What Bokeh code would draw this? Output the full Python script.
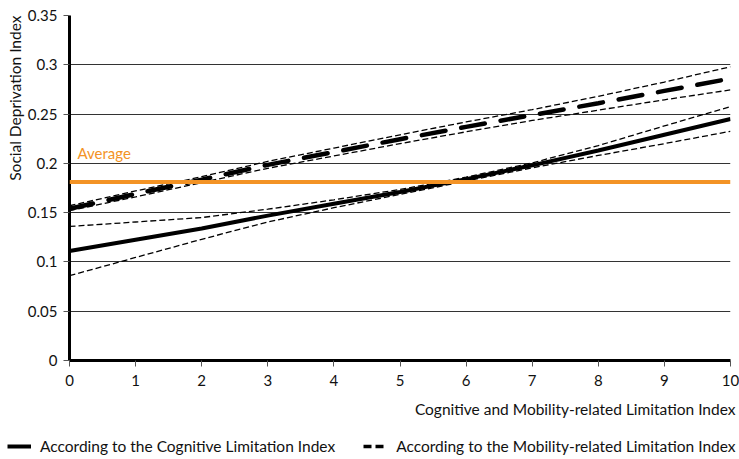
from bokeh.plotting import figure
from bokeh.layouts import column
from bokeh.models import (Span, Label, Legend, LegendItem, FixedTicker,
                          CustomJSTickFormatter, Range1d, Title)
from bokeh.embed import file_html
from bokeh.resources import INLINE

# ---------------- data ----------------
x_vals = [0, 1, 2, 3, 4, 5, 6, 7, 8, 9, 10]

cognitive_mean = [0.111, 0.1225, 0.134, 0.147, 0.159, 0.171, 0.184, 0.198, 0.213, 0.229, 0.245]
cognitive_low = [0.086, 0.1045, 0.123, 0.1405, 0.155, 0.1685, 0.182, 0.1955, 0.208, 0.220, 0.2325]
cognitive_high = [0.136, 0.1405, 0.145, 0.1535, 0.163, 0.1735, 0.186, 0.2005, 0.218, 0.238, 0.2575]

mobility_mean = [0.154, 0.169, 0.1835, 0.1985, 0.2115, 0.2245, 0.237, 0.249, 0.261, 0.2735, 0.286]
mobility_low = [0.152, 0.166, 0.1805, 0.195, 0.2075, 0.220, 0.232, 0.2435, 0.254, 0.2645, 0.2745]
mobility_high = [0.157, 0.172, 0.1865, 0.202, 0.2155, 0.229, 0.242, 0.2545, 0.268, 0.2825, 0.298]

average_value = 0.181

y_ticks = [0, 0.05, 0.1, 0.15, 0.2, 0.25, 0.3, 0.35]
x_ticks = x_vals

x_title = "Cognitive and Mobility-related Limitation Index"
y_title = "Social Deprivation Index"
average_label = "Average"
legend_labels = ["According to the Cognitive Limitation Index",
                 "According to the Mobility-related Limitation Index"]

FONT = "Lato"
ORANGE = "#f39325"
TEXT = "#111111"

# ---------------- main figure ----------------
p = figure(width=739, height=436, output_backend="svg", toolbar_location=None,
           x_range=Range1d(0, 10), y_range=Range1d(0, 0.35),
           min_border_left=69, min_border_right=9, min_border_top=15,
           min_border_bottom=76)
p.outline_line_color = None
p.background_fill_color = "white"
p.border_fill_color = "white"

# grid
p.xgrid.grid_line_color = None
p.ygrid.grid_line_color = "#333333"
p.ygrid.grid_line_width = 1

# axes
p.xaxis.ticker = FixedTicker(ticks=x_ticks)
p.yaxis.ticker = FixedTicker(ticks=y_ticks)
p.yaxis.formatter = CustomJSTickFormatter(code="return String(parseFloat(tick.toFixed(2)));")
for ax in (p.xaxis, p.yaxis):
    ax.axis_line_color = "black"
    ax.axis_line_width = 3
    ax.major_tick_in = 0
    ax.major_tick_out = 6
    ax.major_tick_line_color = "#555555"
    ax.minor_tick_line_color = None
    ax.major_label_text_font = FONT
    ax.major_label_text_font_size = "15px"
    ax.major_label_text_color = TEXT
p.xaxis.major_label_standoff = 8
p.yaxis.major_label_standoff = 6

# average line
p.add_layout(Span(location=average_value, dimension="width",
                  line_color=ORANGE, line_width=4))

# confidence bands (thin dashed)
for arr in (cognitive_low, cognitive_high, mobility_low, mobility_high):
    p.line(x_vals, arr, line_color="black", line_width=1.3, line_dash="6 3")

# main lines
p.line(x_vals, cognitive_mean, line_color="black", line_width=4)
p.line(x_vals, mobility_mean, line_color="black", line_width=4.5,
       line_dash="24 16", line_cap="round")

# "Average" label
p.add_layout(Label(x=0, y=average_value, x_offset=8, y_offset=20, text=average_label,
                   text_font=FONT, text_font_size="15px", text_color=ORANGE,
                   text_baseline="bottom"))

# axis titles as side-panel titles
p.add_layout(Title(text=x_title, align="right", offset=-5, standoff=18,
                   text_font=FONT, text_font_size="15.5px", text_color=TEXT,
                   text_font_style="normal"), "below")
p.add_layout(Title(text=y_title, align="right", offset=0, standoff=2,
                   text_font=FONT, text_font_size="15.5px", text_color=TEXT,
                   text_font_style="normal"), "left")

# ---------------- legend strip ----------------
lg = figure(width=739, height=22, output_backend="svg", toolbar_location=None,
            x_range=Range1d(0, 1), y_range=Range1d(0, 1),
            x_axis_location=None, y_axis_location=None,
            min_border=0, min_border_left=0, min_border_right=0,
            min_border_top=0, min_border_bottom=0)
if "frame_align" in lg.properties():
    lg.frame_align = False
lg.outline_line_color = None
lg.xgrid.grid_line_color = None
lg.ygrid.grid_line_color = None
nan = float("nan")
leg_solid = lg.line([nan], [nan], line_color="black", line_width=4)
leg_dash = lg.line([nan], [nan], line_color="black", line_width=3.5, line_dash="8 4")

legend = Legend(items=[LegendItem(label=legend_labels[0], renderers=[leg_solid]),
                       LegendItem(label=legend_labels[1], renderers=[leg_dash])],
                orientation="horizontal", location=(7, 3),
                glyph_width=24, glyph_height=18, label_height=18,
                label_standoff=9, spacing=28, padding=0, margin=0,
                border_line_color=None, background_fill_alpha=0,
                label_text_font=FONT, label_text_font_size="15.5px",
                label_text_color=TEXT)
lg.add_layout(legend, "center")

layout = column(p, lg, spacing=0)
open("out.html", "w").write(file_html(layout, INLINE))
